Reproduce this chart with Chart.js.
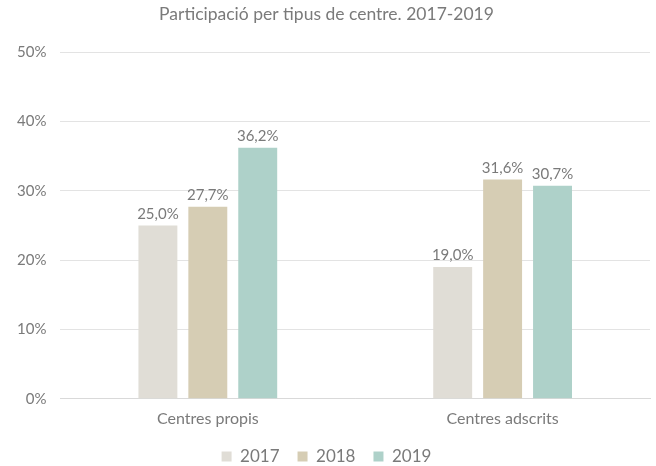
<!DOCTYPE html>
<html lang="ca">
<head>
<meta charset="UTF-8">
<title>Participació per tipus de centre</title>
<script src="https://cdn.jsdelivr.net/npm/chart.js"></script>
<style>
  body { margin: 0; background: #fff; }
  #wrap { width: 656px; height: 466px; }
</style>
</head>
<body>
<div id="wrap"><canvas id="chart" width="656" height="466"></canvas></div>
<script>
const categories = ['Centres propis', 'Centres adscrits'];
const years = ['2017', '2018', '2019'];
const values2017 = [25.0, 19.0];
const values2018 = [27.7, 31.6];
const values2019 = [36.2, 30.7];
const colors = ['#e0ddd6', '#d6cdb4', '#aed1c9'];

const textColor = '#7a7a7a';
const fontFamily = 'Lato, "Open Sans", sans-serif';

// draw value labels above each bar
const barLabels = {
  id: 'barLabels',
  afterDatasetsDraw(chart) {
    const ctx = chart.ctx;
    ctx.save();
    ctx.font = '15px ' + fontFamily;
    ctx.fillStyle = textColor;
    ctx.textAlign = 'center';
    ctx.textBaseline = 'bottom';
    chart.data.datasets.forEach((ds, i) => {
      chart.getDatasetMeta(i).data.forEach((bar, j) => {
        const txt = ds.data[j].toFixed(1).replace('.', ',') + '%';
        ctx.fillText(txt, bar.x, bar.y - 4);
      });
    });
    ctx.restore();
  }
};

new Chart(document.getElementById('chart'), {
  type: 'bar',
  data: {
    labels: categories,
    datasets: [
      { label: years[0], data: values2017, backgroundColor: colors[0] },
      { label: years[1], data: values2018, backgroundColor: colors[1] },
      { label: years[2], data: values2019, backgroundColor: colors[2] }
    ]
  },
  options: {
    responsive: false,
    animation: false,
    layout: { padding: { left: 3, right: 6, top: 0, bottom: -9 } },
    categoryPercentage: 0.508,
    barPercentage: 0.78,
    plugins: {
      title: {
        display: true,
        text: 'Participació per tipus de centre. 2017-2019',
        color: textColor,
        font: { family: fontFamily, size: 17.5, weight: 'normal' },
        padding: { top: 4, bottom: 27 }
      },
      legend: {
        position: 'bottom',
        labels: {
          color: textColor,
          font: { family: fontFamily, size: 17 },
          boxWidth: 10,
          boxHeight: 10,
          padding: 18
        }
      },
      tooltip: { enabled: false }
    },
    scales: {
      x: {
        grid: { display: false },
        border: { color: '#d9d9d9' },
        ticks: { color: textColor, font: { family: fontFamily, size: 16 }, padding: 2 }
      },
      y: {
        min: 0,
        max: 50,
        ticks: {
          stepSize: 10,
          color: textColor,
          font: { family: fontFamily, size: 15 },
          padding: 14,
          callback: v => v + '%'
        },
        grid: { color: '#e3e3e3', drawTicks: false },
        border: { display: false }
      }
    }
  },
  plugins: [barLabels]
});
</script>
</body>
</html>
